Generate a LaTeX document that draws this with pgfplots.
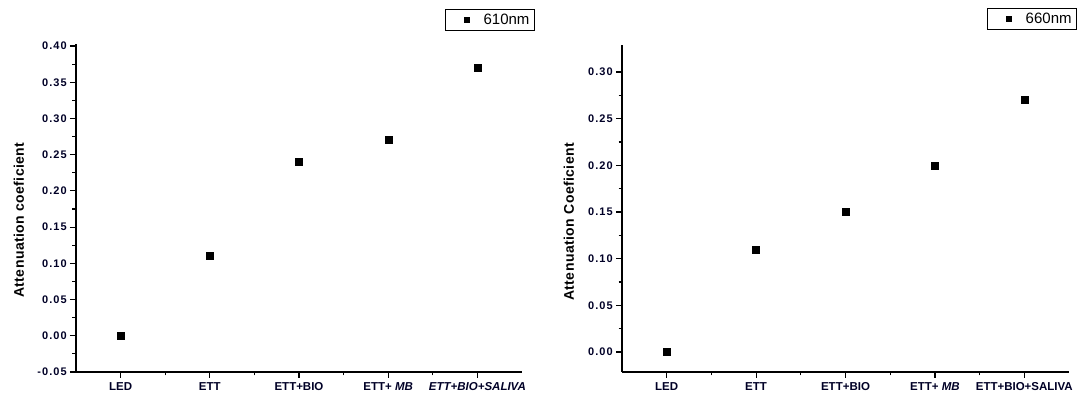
\documentclass[border=0pt]{standalone}
\usepackage{fontspec}
\setmainfont{Liberation Sans}
\newfontfamily\tickfont[LetterSpace=10]{Liberation Sans}
\newfontfamily\labelfont[LetterSpace=3]{Liberation Sans}
\usepackage{pgfplots}
\pgfplotsset{compat=1.18}
\begin{document}
\begin{tikzpicture}
\pgfplotsset{
  mystyle/.style={
    scale only axis,
    axis x line=bottom, axis y line=left,
    axis line style={-, line width=1.4pt},
    tick align=outside,
    major tick length=6pt, minor tick length=3.5pt,
    every tick/.style={black, line width=1.2pt},
    xmin=-0.5, xmax=4.5,
    xtick={0,1,2,3,4},
    minor x tick num=1,
    minor y tick num=1,
    /pgf/number format/assume math mode=true,
    /pgf/number format/.cd, fixed, fixed zerofill, precision=2, /pgfplots/.cd,
    yticklabel style={font=\tickfont\fontsize{11}{12}\selectfont\bfseries, inner xsep=3pt, text=black!85!blue},
    xticklabel style={font=\fontsize{11.5}{13}\selectfont\bfseries, yshift=-2.5pt, inner ysep=2pt, text=black!85!blue},
    ylabel style={font=\labelfont\fontsize{14}{16}\selectfont\bfseries, anchor=center},
    legend style={draw=black, line width=0.9pt, font=\fontsize{15}{16}\selectfont, anchor=north east, inner xsep=3pt, inner ysep=2.5pt},
    legend image code/.code={\path (0pt,0pt) (26pt,0pt); \draw[#1, mark size=2.6pt] plot coordinates {(18pt,0pt)};},
  }
}
\begin{axis}[mystyle,
  at={(76pt,23pt)}, anchor=south west,
  width=446pt, height=328pt,
  ymin=-0.05, ymax=0.4028,
  ytick={-0.05,0,0.05,0.10,0.15,0.20,0.25,0.30,0.35,0.40},
  xticklabels={LED,ETT,ETT+BIO,ETT+ \textit{MB},\textit{ETT+BIO+SALIVA}},
  ylabel={Attenuation coeficient},
  ylabel style={at={(axis description cs:-0.128,0.463)}},
  legend style={at={(axis description cs:1.029,1.107)}},
]
\addplot[only marks, mark=square*, mark size=3.5pt, black] coordinates {
(0,0) (1,0.11) (2,0.24) (3,0.27) (4,0.37)};
\addlegendentry{\hspace{6pt}610nm}
\end{axis}
\begin{axis}[mystyle,
  at={(622pt,23pt)}, anchor=south west,
  width=447pt, height=327pt,
  ymin=-0.0215, ymax=0.329,
  ytick={0,0.05,0.10,0.15,0.20,0.25,0.30},
  xticklabels={LED,ETT,ETT+BIO,ETT+ \textit{MB},ETT+BIO+SALIVA},
  ylabel={Attenuation Coeficient},
  ylabel style={at={(axis description cs:-0.119,0.459)}},
  legend style={at={(axis description cs:1.018,1.113)}},
]
\addplot[only marks, mark=square*, mark size=3.5pt, black] coordinates {
(0,0) (1,0.11) (2,0.15) (3,0.20) (4,0.27)};
\addlegendentry{\hspace{6pt}660nm}
\end{axis}
\pgfresetboundingbox
\path[use as bounding box] (0pt,0pt) rectangle (1080pt,395pt);
\end{tikzpicture}
\end{document}
